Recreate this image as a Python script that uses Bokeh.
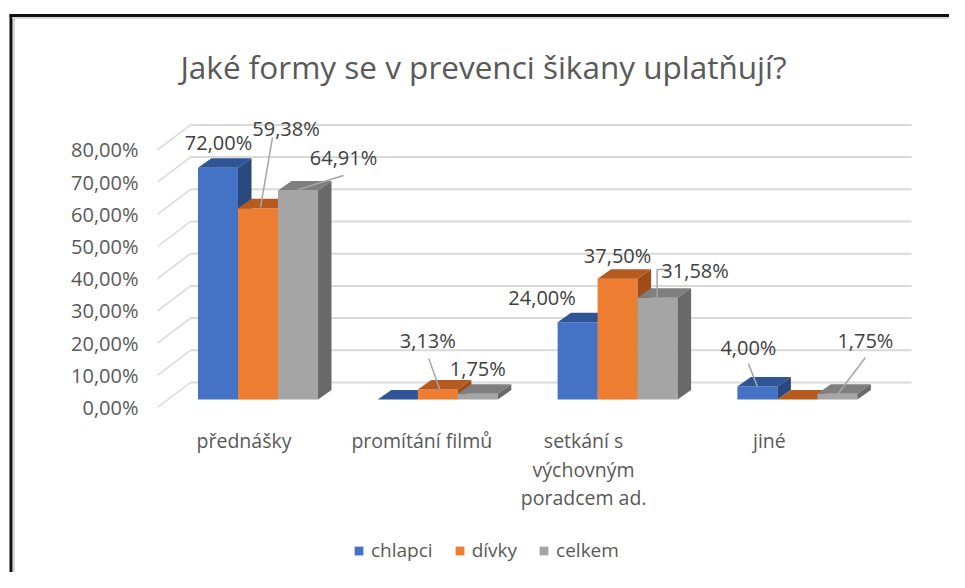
from bokeh.plotting import figure
from bokeh.models import Range1d, Legend, LegendItem
from bokeh.core.properties import value
from bokeh.embed import file_html
from bokeh.resources import INLINE

# ---------------- data ----------------
title_text = "Jaké formy se v prevenci šikany uplatňují?"
categories = ["přednášky", "promítání filmů", "setkání s\nvýchovným\nporadcem ad.", "jiné"]
series_names = ["chlapci", "dívky", "celkem"]
chlapci = [72.00, 0.00, 24.00, 4.00]
divky = [59.38, 3.13, 37.50, 0.00]
celkem = [64.91, 1.75, 31.58, 1.75]
y_ticks = [0, 10, 20, 30, 40, 50, 60, 70, 80]

# ---------------- layout (pixels) ----------------
W, H, OFF = 949, 572, 0
X0, XS = 257.5, 179.8      # page x of category 0 centre, px per category
Y0, YS = 399.0, 3.22       # page y of 0 %, px per percent
FONT = value("Open Sans")

def ux(px):
    return (px - X0) / XS

def vy(py):
    return (Y0 - py) / YS

def dux(d):
    return d / XS

def dvy(d):
    return -d / YS

BW = dux(40)                       # bar width
DX, DY = dux(13.5), dvy(-9.5)      # bar depth
BACK = dvy(-17)                    # back wall offset
WALL_DX, WALL_DY = dux(-33), dvy(25)  # back wall -> front of side wall

front_cols = ["#4472C4", "#ED7D31", "#A5A5A5"]
top_cols = ["#2F5597", "#B65A1F", "#7F7F7F"]
side_cols = ["#29497F", "#9E4C19", "#696969"]
label_offsets = [
    [(0.5, -25), None, (-35.5, -24.7), (-9, -39)],
    [(28, -80), (-10, -49), (0, -23), None],
    [(45.5, -33), (0, -25.4), (37.5, -27), (28, -53)],
]
leaders = [
    [None, None, None, [(0, 0), (-9, -23)]],
    [[(2.5, -0.8), (14.5, -70.8)], [(2, 0), (-9, -31)], None, None],
    [[(0.5, -1), (45.5, -15)], None, [(-0.5, 0.7), (-0.5, -28.3), (12.5, -28.3)], [(0, 0.6), (28, -36.4)]],
]
cat_dx = [-14, -16, -34, -28]
cat_y, cat_lh = 440, 28.5

p = figure(width=W, height=H, output_backend="svg", toolbar_location=None,
           x_range=Range1d(ux(OFF), ux(OFF + W)), y_range=Range1d(vy(OFF + H), vy(OFF)),
           x_axis_type=None, y_axis_type=None, min_border=0,
           min_border_left=0, min_border_right=0, min_border_top=0, min_border_bottom=0)
p.xgrid.visible = False
p.ygrid.visible = False
p.outline_line_color = None
p.background_fill_color = "white"
p.border_fill_color = "white"

# chart frame (border of the original picture)
p.line([ux(10.5), ux(10.5)], [vy(14), vy(700)], line_color="#111111", line_width=3)
p.line([ux(9), ux(1100)], [vy(15), vy(15)], line_color="#111111", line_width=3)
p.line([ux(13.5), ux(13.5)], [vy(17), vy(700)], line_color="#D9D9D9", line_width=2)
p.line([ux(12), ux(1100)], [vy(17.5), vy(17.5)], line_color="#D9D9D9", line_width=2)

# title
p.text(x=[ux(483)], y=[vy(66)], text=[title_text], text_align="center", text_baseline="middle",
       text_font=FONT, text_font_size="31.5px", text_color="#595959")

# back wall gridlines and side wall lines
n = len(categories)
gx0, gx1 = ux(190), ux(911)
p.segment(x0=[gx0] * len(y_ticks), x1=[gx1] * len(y_ticks),
          y0=[t + BACK for t in y_ticks], y1=[t + BACK for t in y_ticks],
          line_color="#D9D9D9", line_width=2)
p.segment(x0=[gx0] * len(y_ticks), x1=[gx0 + WALL_DX] * len(y_ticks),
          y0=[t + BACK for t in y_ticks], y1=[t + BACK + WALL_DY for t in y_ticks],
          line_color="#D9D9D9", line_width=1.5)

# y tick labels
def fmt(v):
    return f"{v:.2f}".replace(".", ",") + "%"

p.text(x=[ux(138)] * len(y_ticks), y=[t + BACK + WALL_DY for t in y_ticks],
       text=[fmt(t) for t in y_ticks], text_align="right", text_baseline="middle",
       text_font=FONT, text_font_size="20px", text_color="#595959")

# bars
all_series = [chlapci, divky, celkem]
front_renderers = []
for k, vals in enumerate(all_series):
    lefts, rights, tops = [], [], []
    for i, v in enumerate(vals):
        xc = i + (k - 1) * BW
        lefts.append(xc - BW / 2)
        rights.append(xc + BW / 2)
        tops.append(v)
    r = p.quad(left=lefts, right=rights, bottom=[0] * n, top=tops,
               fill_color=front_cols[k], line_color=None)
    front_renderers.append(r)
    top_xs = [[l, rr, rr + DX, l + DX] for l, rr in zip(lefts, rights)]
    top_ys = [[t, t, t + DY, t + DY] for t in tops]
    p.patches(top_xs, top_ys, fill_color=top_cols[k], line_color=None)
    side_xs = [[rr, rr, rr + DX, rr + DX] for rr in rights]
    side_ys = [[0, t, t + DY, DY] for t in tops]
    p.patches(side_xs, side_ys, fill_color=side_cols[k], line_color=None)

# data labels + leader lines
lx, ly, lt = [], [], []
for k, vals in enumerate(all_series):
    for i, v in enumerate(vals):
        xc = i + (k - 1) * BW
        off = label_offsets[k][i]
        if off is not None and v > 0:
            lx.append(xc + dux(off[0]))
            ly.append(v + dvy(off[1]))
            lt.append(fmt(v))
        ld = leaders[k][i]
        if ld is not None:
            p.line([xc + dux(a) for a, b in ld], [v + dvy(b) for a, b in ld],
                   line_color="#A6A6A6", line_width=1.5)
p.text(x=lx, y=ly, text=lt, text_align="center", text_baseline="middle",
       text_font=FONT, text_font_size="20px", text_color="#404040")

# category labels
cx, cy, ct = [], [], []
for i, c in enumerate(categories):
    for j, line in enumerate(c.split("\n")):
        cx.append(i + dux(cat_dx[i]))
        cy.append(vy(cat_y + j * cat_lh))
        ct.append(line)
p.text(x=cx, y=cy, text=ct, text_align="center", text_baseline="middle",
       text_font=FONT, text_font_size="19.5px", text_color="#595959")

# legend
legend = Legend(items=[LegendItem(label=s, renderers=[r]) for s, r in zip(series_names, front_renderers)],
                orientation="horizontal", location=(353, 9), padding=0, margin=0,
                spacing=21, glyph_width=11, glyph_height=11, label_standoff=7, label_height=20,
                label_text_font="Open Sans", label_text_font_size="19px", label_text_color="#595959",
                background_fill_alpha=0, border_line_color=None)
p.add_layout(legend)

open("out.html", "w").write(file_html(p, INLINE))
